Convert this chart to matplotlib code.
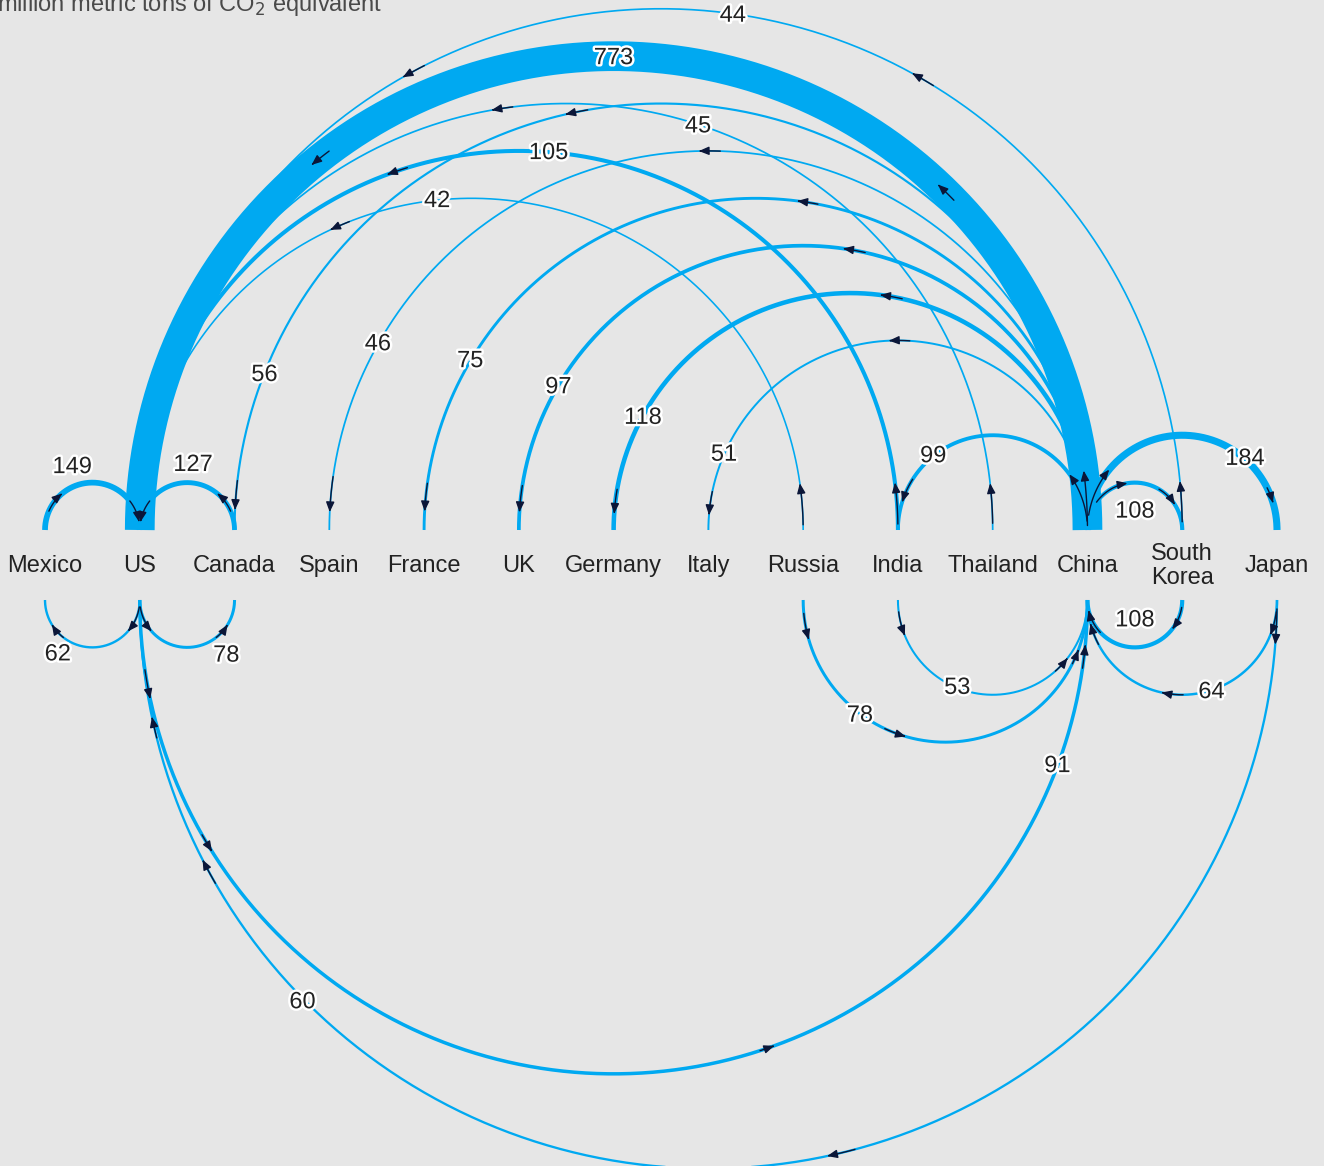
import numpy as np
import matplotlib
matplotlib.use("Agg")
import matplotlib.pyplot as plt
import matplotlib.patheffects as pe
from matplotlib.patches import FancyArrowPatch
from matplotlib.path import Path

plt.rcParams['font.family'] = ['Liberation Sans', 'DejaVu Sans']

# countries along the axis, left to right
countries = ["Mexico", "US", "Canada", "Spain", "France", "UK", "Germany",
             "Italy", "Russia", "India", "Thailand", "China", "South\nKorea", "Japan"]

# flows drawn above the axis: source, target, value
above_src = ["China", "Mexico", "Canada", "South\nKorea", "Thailand", "India", "Russia",
             "China", "China", "China", "China", "China", "China", "China", "China", "China"]
above_dst = ["US", "US", "US", "US", "US", "US", "US",
             "Canada", "Spain", "France", "UK", "Germany", "Italy", "India", "South\nKorea", "Japan"]
above_val = [773, 149, 127, 44, 45, 105, 42,
             56, 46, 75, 97, 118, 51, 99, 108, 184]

# flows drawn below the axis
below_src = ["US", "US", "Russia", "India", "South\nKorea", "Japan", "US", "Japan"]
below_dst = ["Mexico", "Canada", "China", "China", "China", "China", "China", "US"]
below_val = [62, 78, 78, 53, 108, 64, 91, 60]

# arrow segments along each arc (fraction of the way from source to target)
above_arrows = [
    [(0.003, 0.04), (0.245, 0.26), (0.705, 0.72)],
    [(0.13, 0.28), (0.79, 0.945)],
    [(0.13, 0.28), (0.79, 0.945)],
    [(0.005, 0.03), (0.325, 0.34), (0.65, 0.665)],
    [(0.005, 0.035), (0.54, 0.556)],
    [(0.005, 0.04), (0.595, 0.613)],
    [(0.005, 0.045), (0.62, 0.64)],
    [(0.555, 0.572), (0.963, 0.985)],
    [(0.49, 0.508), (0.955, 0.985)],
    [(0.44, 0.46), (0.955, 0.982)],
    [(0.43, 0.455), (0.95, 0.98)],
    [(0.43, 0.46), (0.945, 0.978)],
    [(0.48, 0.515), (0.935, 0.975)],
    [(0.03, 0.2), (0.82, 0.905)],
    [(0.2, 0.45), (0.67, 0.82)],
    [(0.05, 0.22), (0.853, 0.907)],
]
below_arrows = [
    [(0.047, 0.23), (0.71, 0.825)],
    [(0.047, 0.23), (0.71, 0.825)],
    [(0.03, 0.09), (0.36, 0.41), (0.852, 0.886)],
    [(0.04, 0.123), (0.73, 0.79)],
    [(0.05, 0.21), (0.76, 0.93)],
    [(0.04, 0.12), (0.497, 0.57), (0.845, 0.92)],
    [(0.047, 0.067), (0.165, 0.178), (0.6, 0.61), (0.954, 0.97)],
    [(0.005, 0.025), (0.417, 0.433), (0.834, 0.849), (0.922, 0.934)],
]

# label placement: fraction along arc, extra offset in px (positive = down)
above_lab = [(0.5, 2), (0.36, -20), (0.46, -18), (0.456, 2), (0.4, 2), (0.475, 1), (0.533, 1),
             (0.88, 2), (0.837, 0), (0.83, 0), (0.83, 2), (0.84, 2), (0.87, 0), (0.716, 0),
             (0.5, 29), (0.73, 0)]
below_lab = [(0.76, 22), (0.81, 29), (0.295, 2), (0.378, 0), (0.5, -27), (0.4, 2),
             (0.886, 0), (0.753, 4)]

W, H = 1324, 1166
X0, DX = 45, 94.77
Y_TOP, Y_BOT, Y_LAB = 530, 600, 566
BLUE = "#00a9f1"
NAVY = "#0b1638"
BG = "#e6e6e6"
PX_PER_UNIT = 1 / 26.0


def xpos(name):
    return X0 + countries.index(name) * DX


def arc_points(src, dst, t, side):
    xs, xt = xpos(src), xpos(dst)
    c, r = (xs + xt) / 2, abs(xt - xs) / 2
    t = np.asarray(t, dtype=float)
    theta = np.pi * (1 - t) if xs < xt else np.pi * t
    x = c + r * np.cos(theta)
    if side == "above":
        y = Y_TOP - r * np.sin(theta)
    else:
        y = Y_BOT + r * np.sin(theta)
    return x, y


fig = plt.figure(figsize=(W / 100, H / 100), dpi=100, facecolor=BG)
ax = fig.add_axes([0, 0, 1, 1])
ax.set_facecolor(BG)
ax.set_xlim(0, W)
ax.set_ylim(H, 0)
ax.axis("off")

halo = [pe.withStroke(linewidth=3.5, foreground="white")]

for side, srcs, dsts, vals, arrows, labs in [
        ("above", above_src, above_dst, above_val, above_arrows, above_lab),
        ("below", below_src, below_dst, below_val, below_arrows, below_lab)]:
    order = np.argsort(vals)[::-1]
    for i in order:
        t = np.linspace(0, 1, 400)
        x, y = arc_points(srcs[i], dsts[i], t, side)
        ax.plot(x, y, color=BLUE, lw=vals[i] * PX_PER_UNIT * 0.72,
                solid_capstyle="butt", zorder=2)
    for i in range(len(vals)):
        for t1, t2 in arrows[i]:
            ax_, ay_ = arc_points(srcs[i], dsts[i], np.linspace(t1, t2, 20), side)
            arr = FancyArrowPatch(path=Path(np.column_stack([ax_, ay_])),
                                  arrowstyle="-|>,head_length=0.6,head_width=0.25",
                                  mutation_scale=10, color=NAVY, lw=1.0, zorder=4)
            ax.add_patch(arr)
        tl, off = labs[i]
        lx, ly = arc_points(srcs[i], dsts[i], tl, side)
        ax.text(float(lx), float(ly) + off, str(vals[i]), fontsize=17, color="#222222",
                ha="center", va="center", zorder=5, path_effects=halo)

for name in countries:
    ax.text(xpos(name), Y_LAB, name, fontsize=17, color="#222222",
            ha="center", va="center", linespacing=1.1, zorder=5)

ax.text(-3, 11, "million metric tons of CO$_2$ equivalent", fontsize=17,
        color="#4a4a4a", ha="left", va="baseline", zorder=5)

fig.savefig("out.png", dpi=100, facecolor=BG)
